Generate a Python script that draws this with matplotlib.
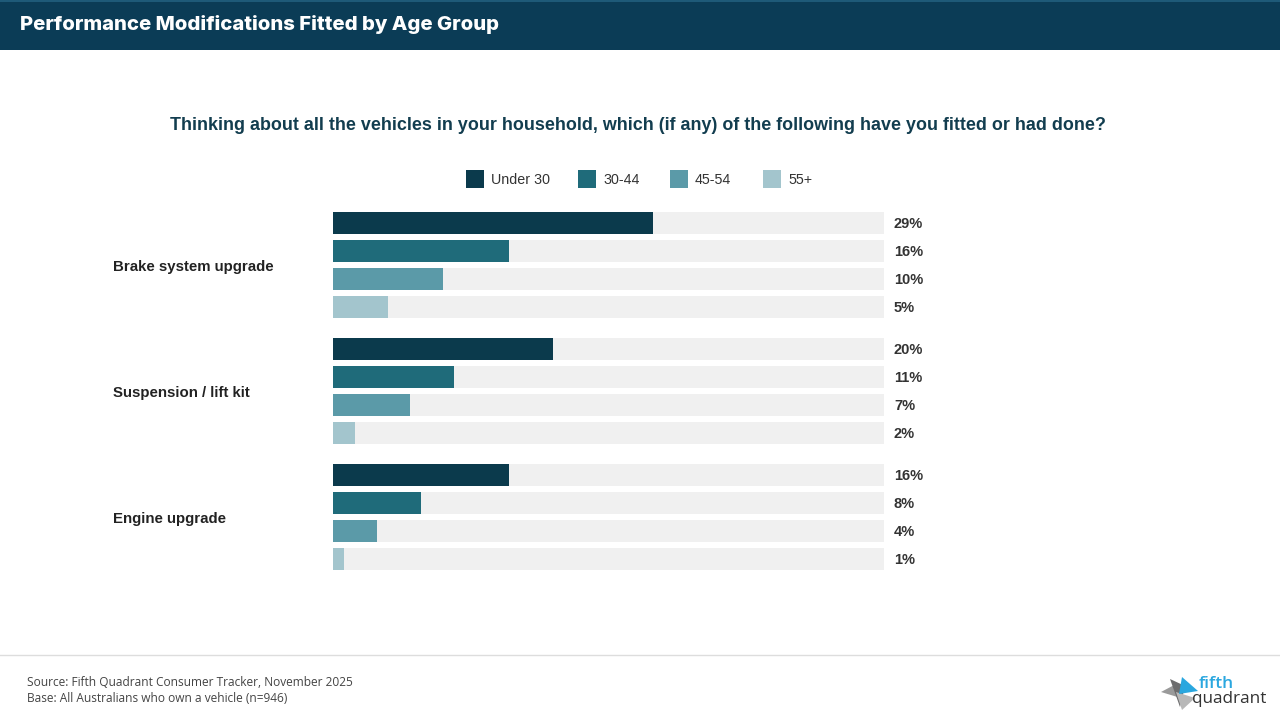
import matplotlib
matplotlib.use('Agg')
import matplotlib.pyplot as plt
from matplotlib.patches import Rectangle, Polygon

# data
categories = ['Brake system upgrade', 'Suspension / lift kit', 'Engine upgrade']
age_groups = ['Under 30', '30-44', '45-54', '55+']
under_30 = [29, 20, 16]
age_30_44 = [16, 11, 8]
age_45_54 = [10, 7, 4]
age_55_plus = [5, 2, 1]
series = [under_30, age_30_44, age_45_54, age_55_plus]

colors = ['#0b3a4c', '#1f6b7a', '#5b9aa8', '#a3c5cd']
track_color = '#f0f0f0'
x_max = 50

W, H = 1280, 720
fig = plt.figure(figsize=(12.8, 7.2), dpi=100)
fig.patch.set_facecolor('white')

def fx(px):
    return px / W

def fy(py):
    return 1 - py / H

# header band
fig.patches.append(Rectangle((0, fy(50)), 1, 50 / H, transform=fig.transFigure,
                             facecolor='#0b3c56', edgecolor='none', zorder=0))
fig.patches.append(Rectangle((0, fy(2)), 1, 2 / H, transform=fig.transFigure,
                             facecolor='#1e5a78', edgecolor='none', zorder=1))
fig.text(fx(20), fy(25), 'Performance Modifications Fitted by Age Group', color='white',
         fontsize=14.6, fontweight='heavy', family='Inter', va='center', ha='left')

# question
fig.text(fx(638), fy(126), 'Thinking about all the vehicles in your household, which (if any) of the following have you fitted or had done?',
         color='#123d4f', fontsize=12.9, fontweight='bold', family='Liberation Sans', ha='center', va='center')

# legend
leg_x = [466, 578, 670, 763]
for i, name in enumerate(age_groups):
    fig.patches.append(Rectangle((fx(leg_x[i]), fy(188)), 18 / W, 18 / H, transform=fig.transFigure,
                                 facecolor=colors[i], edgecolor='none'))
    fig.text(fx(leg_x[i] + 25), fy(180), name, fontsize=10.3, family='Liberation Sans',
             color='#333333', va='center', ha='left')

# bars
row_step = 28
group_step = 126
bar_h = 22
top_px, bot_px = 200, 590
ax = fig.add_axes([fx(333), fy(bot_px), 551 / W, (bot_px - top_px) / H])
ax.set_xlim(0, x_max)
ax.set_ylim(bot_px - 223, top_px - 223)
ax.axis('off')

for g, cat in enumerate(categories):
    for s, vals in enumerate(series):
        y = g * group_step + s * row_step
        ax.barh(y, x_max, height=bar_h, color=track_color, edgecolor='none', zorder=1)
        ax.barh(y, vals[g], height=bar_h, color=colors[s], edgecolor='none', zorder=2)
        ax.text(x_max + 10 / 11.02, y + 1, f'{vals[g]}%', fontsize=10.5, fontweight='bold',
                family='Liberation Sans', color='#333333', va='center', ha='left')
    yc = g * group_step + 1.5 * row_step
    ax.text(-220 / 11.02, yc + 2, cat, fontsize=10.8, fontweight='bold', family='Liberation Sans',
            color='#222222', va='center', ha='left', clip_on=False)

# footer
fig.lines.append(plt.Line2D([0, 1], [fy(655), fy(655)], transform=fig.transFigure,
                            color='#dddddd', linewidth=1))
fig.text(fx(27), fy(683), 'Source: Fifth Quadrant Consumer Tracker, November 2025', fontsize=8.6,
         family='Open Sans', color='#444444', va='center', ha='left')
fig.text(fx(27), fy(698), 'Base: All Australians who own a vehicle (n=946)', fontsize=8.6,
         family='Open Sans', color='#444444', va='center', ha='left')

# logo
def poly(pts, color):
    fig.patches.append(Polygon([(fx(x), fy(y)) for x, y in pts], closed=True,
                               transform=fig.transFigure, facecolor=color, edgecolor='none'))

poly([(1161, 692), (1178, 683), (1184, 699)], '#9a9a9a')
poly([(1170, 679), (1185, 686), (1180, 707)], '#6d6d6e')
poly([(1176, 692), (1195, 698), (1182, 710)], '#b8b8b8')
poly([(1182, 677), (1198, 691), (1179, 694)], '#2aa7df')
fig.text(fx(1199), fy(684), 'fifth', fontsize=12.5, fontweight='semibold', family='Open Sans',
         color='#2aa7df', va='center', ha='left')
fig.text(fx(1192), fy(699), 'quadrant', fontsize=12.3, family='Open Sans', color='#333333',
         va='center', ha='left')

fig.savefig('out.png', dpi=100, facecolor='white')
